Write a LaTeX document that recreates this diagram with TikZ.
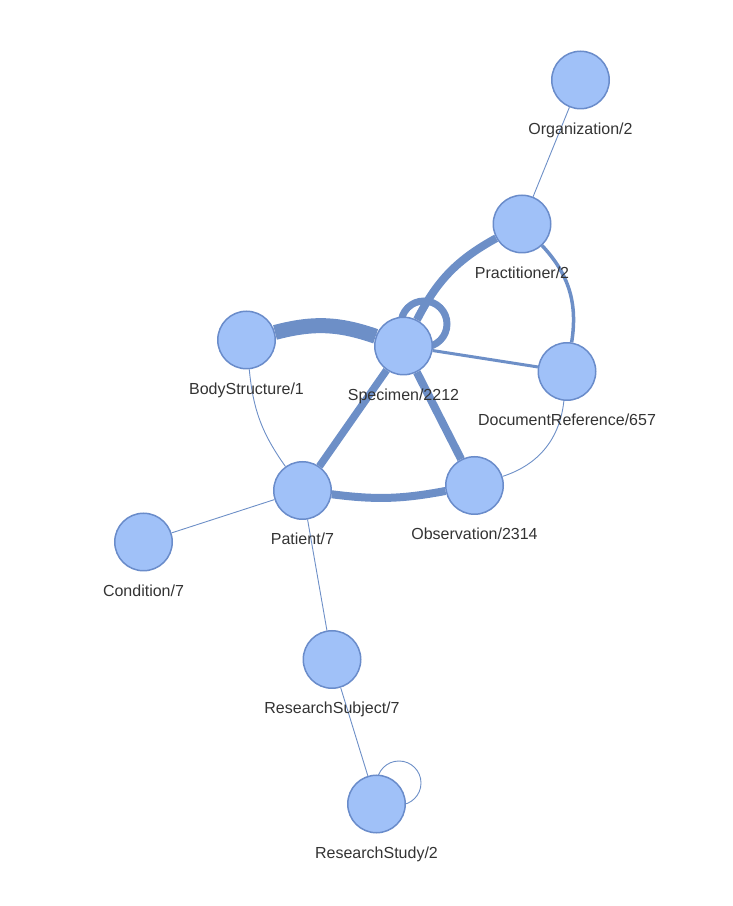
\documentclass[tikz,border=0pt]{standalone}
\usepackage{fontspec}
\setmainfont{Liberation Sans}
\usetikzlibrary{backgrounds}
\definecolor{entfill}{RGB}{160,193,248}
\definecolor{entdraw}{RGB}{106,140,202}
\definecolor{linkblue}{RGB}{109,143,199}
\definecolor{lbltext}{RGB}{51,51,51}

\begin{document}
\begin{tikzpicture}[x=1pt, y=1pt,
  ent/.style={circle, draw=entdraw, fill=entfill, line width=1.5pt, minimum size=57.5pt, inner sep=0pt},
  every label/.style={font=\fontsize{16}{19}\selectfont, text=lbltext, inner sep=0pt},
  label distance=13pt,
  link/.style={draw=linkblue, line width=#1}, link/.default=0.9pt]
  \useasboundingbox (0,0) rectangle (732,906);
  \node[ent, label=below:Organization/2] (org) at (580.5,826) {};
  \node[ent, label=below:Practitioner/2] (prac) at (522,682) {};
  \node[ent, label=below:BodyStructure/1] (body) at (246.5,566) {};
  \node[ent, label=below:Specimen/2212] (spec) at (403.5,560) {};
  \node[ent, label=below:DocumentReference/657] (docref) at (567,534.5) {};
  \node[ent, label=below:Patient/7] (pat) at (302.5,415.5) {};
  \node[ent, label=below:Observation/2314] (obs) at (474.5,420.5) {};
  \node[ent, label=below:Condition/7] (cond) at (143.5,364) {};
  \node[ent, label=below:ResearchSubject/7] (rsub) at (332,246.5) {};
  \node[ent, label=below:ResearchStudy/2] (rstudy) at (376.5,102) {};
  \begin{scope}[on background layer]
    \foreach \a/\b in {org/prac, pat/cond, pat/rsub, rsub/rstudy} \draw[link] (\a) -- (\b);
    \draw[link] (body) to[bend right=15] (pat);
    \draw[link] (docref) to[bend left=33] (obs);
    \draw[link=3.5pt] (prac) to[bend left=26] (docref);
    \draw[link=3pt] (spec) -- (docref);
    \draw[link=8pt] (prac) to[bend right=17] (spec);
    \draw[link=7.5pt] (spec) -- (pat);
    \draw[link=8pt] (spec) -- (obs);
    \draw[link=8pt] (pat) to[bend right=9] (obs);
    \draw[link=15pt] (body) to[bend left=17] (spec);
    % self loops
    \draw[link=7pt] ([shift={(20.5,22)}]spec.center) circle[radius=23];
    \draw[link] ([shift={(22.5,21)}]rstudy.center) circle[radius=22];
  \end{scope}
\end{tikzpicture}
\end{document}
